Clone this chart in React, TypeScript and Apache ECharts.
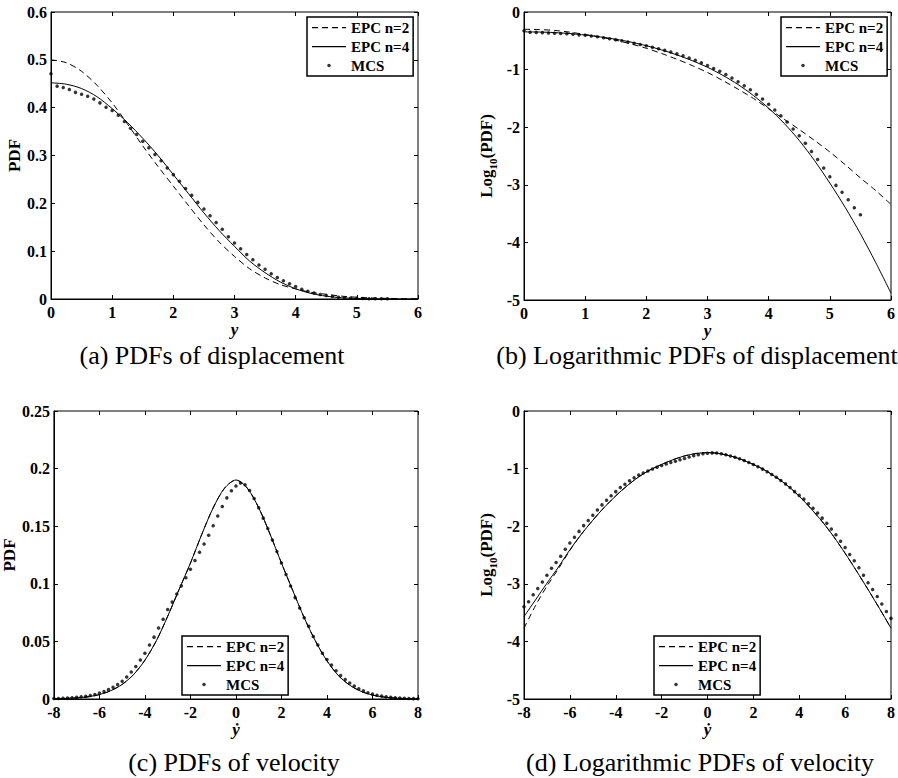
import React, { useEffect, useRef } from 'react';
import * as echarts from 'echarts';

const FONT = 'Liberation Serif, Times New Roman, serif';

// ---------- (a)/(b) displacement ----------
const xLineAB = [0, 0.25, 0.5, 0.75, 1, 1.25, 1.5, 1.75, 2, 2.25, 2.5, 2.75, 3, 3.25, 3.5, 3.75, 4, 4.25, 4.5, 4.75, 5, 5.25, 5.5, 5.75, 6];
const epc2A = [0.5, 0.494, 0.476, 0.447, 0.41, 0.366, 0.32, 0.277, 0.236, 0.195, 0.155, 0.119, 0.089, 0.063, 0.044, 0.03, 0.021, 0.014, 0.0098, 0.006, 0.0037, 0.0022, 0.0013, 0.0008, 0.0005];
const epc4A = [0.452, 0.449, 0.44, 0.423, 0.398, 0.369, 0.336, 0.3, 0.26, 0.22, 0.18, 0.143, 0.11, 0.079, 0.055, 0.0355, 0.0214, 0.0117, 0.0059, 0.0026, 0.00107, 0.00041, 0.00014, 0.000045, 0.000013];
const epc2B = [-0.3, -0.305, -0.32, -0.35, -0.39, -0.435, -0.49, -0.555, -0.63, -0.72, -0.82, -0.93, -1.05, -1.19, -1.34, -1.5, -1.68, -1.86, -2.04, -2.23, -2.43, -2.65, -2.88, -3.1, -3.34];
const epc4B = [-0.345, -0.348, -0.357, -0.374, -0.4, -0.433, -0.473, -0.523, -0.585, -0.658, -0.745, -0.845, -0.96, -1.1, -1.26, -1.45, -1.67, -1.93, -2.23, -2.58, -2.97, -3.39, -3.85, -4.35, -4.88];
const xMcsAB = [0, 0.1, 0.2, 0.3, 0.4, 0.5, 0.6, 0.7, 0.8, 0.9, 1, 1.1, 1.2, 1.3, 1.4, 1.5, 1.6, 1.7, 1.8, 1.9, 2, 2.1, 2.2, 2.3, 2.4, 2.5, 2.6, 2.7, 2.8, 2.9, 3, 3.1, 3.2, 3.3, 3.4, 3.5, 3.6, 3.7, 3.8, 3.9, 4, 4.1, 4.2, 4.3, 4.4, 4.5, 4.6, 4.7, 4.8, 4.9, 5, 5.1, 5.2, 5.3, 5.4, 5.5];
const mcsA = [0.471, 0.445, 0.442, 0.438, 0.432, 0.428, 0.424, 0.418, 0.41, 0.401, 0.394, 0.384, 0.371, 0.357, 0.344, 0.33, 0.316, 0.302, 0.289, 0.274, 0.26, 0.246, 0.231, 0.217, 0.202, 0.188, 0.174, 0.16, 0.146, 0.13, 0.117, 0.105, 0.093, 0.082, 0.071, 0.062, 0.053, 0.045, 0.038, 0.032, 0.026, 0.0205, 0.016, 0.0124, 0.0094, 0.0071, 0.0052, 0.0038, 0.00275, 0.00195, 0.00138, 0.00098, 0.00074, 0.00055, 0.0004, 0.0003];
const mcsB = [-0.327, -0.352, -0.354, -0.358, -0.364, -0.368, -0.373, -0.379, -0.387, -0.397, -0.405, -0.416, -0.43, -0.447, -0.463, -0.481, -0.5, -0.52, -0.541, -0.563, -0.587, -0.612, -0.638, -0.666, -0.696, -0.727, -0.76, -0.797, -0.836, -0.88, -0.93, -0.98, -1.03, -1.085, -1.145, -1.21, -1.28, -1.35, -1.43, -1.51, -1.6, -1.7, -1.8, -1.91, -2.03, -2.15, -2.28, -2.42, -2.56, -2.71, -2.86, -3.01, -3.13, -3.26, -3.4, -3.52];

// ---------- (c)/(d) velocity ----------
const xLineCD = [-8, -7.5, -7, -6.5, -6, -5.5, -5, -4.5, -4, -3.5, -3, -2.5, -2, -1.5, -1, -0.5, 0, 0.5, 1, 1.5, 2, 2.5, 3, 3.5, 4, 4.5, 5, 5.5, 6, 6.5, 7, 7.5, 8];
const epc2C = [0.00017, 0.00042, 0.00091, 0.00182, 0.0038, 0.00724, 0.0127, 0.0212, 0.0337, 0.0505, 0.0718, 0.095, 0.118, 0.143, 0.166, 0.183, 0.1901, 0.183, 0.166, 0.143, 0.118, 0.094, 0.0705, 0.0501, 0.0331, 0.0204, 0.012, 0.0066, 0.0034, 0.00166, 0.00079, 0.00037, 0.00017];
const epc4C = [0.000269, 0.000525, 0.00102, 0.00195, 0.00389, 0.00724, 0.0127, 0.0212, 0.0337, 0.0505, 0.0718, 0.095, 0.118, 0.143, 0.166, 0.183, 0.1901, 0.183, 0.166, 0.143, 0.118, 0.094, 0.0705, 0.0501, 0.0331, 0.0204, 0.012, 0.0066, 0.0034, 0.00166, 0.00079, 0.00037, 0.00017];
const epc2D = [-3.77, -3.38, -3.04, -2.74, -2.42, -2.14, -1.896, -1.673, -1.473, -1.297, -1.144, -1.022, -0.928, -0.845, -0.78, -0.738, -0.721, -0.738, -0.78, -0.845, -0.928, -1.027, -1.152, -1.3, -1.48, -1.69, -1.92, -2.18, -2.47, -2.78, -3.1, -3.43, -3.77];
const epc4D = [-3.57, -3.28, -2.99, -2.71, -2.41, -2.14, -1.896, -1.673, -1.473, -1.297, -1.144, -1.022, -0.928, -0.845, -0.78, -0.738, -0.721, -0.738, -0.78, -0.845, -0.928, -1.027, -1.152, -1.3, -1.48, -1.69, -1.92, -2.18, -2.47, -2.78, -3.1, -3.43, -3.77];
const xMcsCD = [-8, -7.8, -7.6, -7.4, -7.2, -7, -6.8, -6.6, -6.4, -6.2, -6, -5.8, -5.6, -5.4, -5.2, -5, -4.8, -4.6, -4.4, -4.2, -4, -3.8, -3.6, -3.4, -3.2, -3, -2.8, -2.6, -2.4, -2.2, -2, -1.8, -1.6, -1.4, -1.2, -1, -0.8, -0.6, -0.4, -0.2, 0, 0.2, 0.4, 0.6, 0.8, 1, 1.2, 1.4, 1.6, 1.8, 2, 2.2, 2.4, 2.6, 2.8, 3, 3.2, 3.4, 3.6, 3.8, 4, 4.2, 4.4, 4.6, 4.8, 5, 5.2, 5.4, 5.6, 5.8, 6, 6.2, 6.4, 6.6, 6.8, 7, 7.2, 7.4, 7.6, 7.8, 8];
const mcsC = [0.000398, 0.00049, 0.000646, 0.000832, 0.00107, 0.00141, 0.00186, 0.00234, 0.00302, 0.00398, 0.00513, 0.00646, 0.00813, 0.0102, 0.0126, 0.0155, 0.0191, 0.0234, 0.0282, 0.0339, 0.0398, 0.0468, 0.0537, 0.0617, 0.0692, 0.0776, 0.0841, 0.0912, 0.0982, 0.1052, 0.1127, 0.1202, 0.1274, 0.1346, 0.1422, 0.1503, 0.1589, 0.1671, 0.1746, 0.1807, 0.1849, 0.1875, 0.186, 0.181, 0.174, 0.166, 0.157, 0.148, 0.138, 0.128, 0.118, 0.108, 0.098, 0.088, 0.079, 0.0705, 0.0631, 0.0543, 0.0468, 0.0398, 0.0343, 0.0295, 0.0245, 0.0204, 0.017, 0.0138, 0.0112, 0.0089, 0.0071, 0.0055, 0.00427, 0.00324, 0.00251, 0.00191, 0.00141, 0.00105, 0.00079, 0.0006, 0.00045, 0.00033, 0.00025];
const mcsD = [-3.4, -3.31, -3.19, -3.08, -2.97, -2.85, -2.73, -2.63, -2.52, -2.4, -2.29, -2.19, -2.09, -1.99, -1.9, -1.81, -1.72, -1.63, -1.55, -1.47, -1.4, -1.33, -1.27, -1.21, -1.16, -1.11, -1.075, -1.04, -1.008, -0.978, -0.948, -0.92, -0.895, -0.871, -0.847, -0.823, -0.799, -0.777, -0.758, -0.743, -0.733, -0.727, -0.73, -0.742, -0.759, -0.78, -0.804, -0.83, -0.86, -0.893, -0.928, -0.966, -1.009, -1.056, -1.102, -1.152, -1.205, -1.265, -1.33, -1.4, -1.465, -1.53, -1.61, -1.69, -1.77, -1.86, -1.95, -2.05, -2.15, -2.26, -2.37, -2.49, -2.6, -2.72, -2.85, -2.98, -3.1, -3.22, -3.35, -3.48, -3.6];

const seriesNames = ['EPC n=2', 'EPC n=4', 'MCS'];
const captions = ['(a) PDFs of displacement', '(b) Logarithmic PDFs of displacement', '(c) PDFs of velocity', '(d) Logarithmic PDFs of velocity'];

const pair = (xs: number[], ys: number[]) => xs.map((x, i) => [x, ys[i]]);

const panels = [
  { rect: { left: 51, top: 12, width: 367, height: 287 }, x: [0, 6, 1], y: [0, 0.6, 0.1], xName: 'y', log: false, yGap: 27,
    xl: xLineAB, l2: epc2A, l4: epc4A, xm: xMcsAB, m: mcsA, legend: { left: 307, top: 17 }, cap: { x: 212, y: 355 } },
  { rect: { left: 524, top: 12, width: 367, height: 288 }, x: [0, 6, 1], y: [-5, 0, 1], xName: 'y', log: true, yGap: 26,
    xl: xLineAB, l2: epc2B, l4: epc4B, xm: xMcsAB, m: mcsB, legend: { left: 781, top: 17 }, cap: { x: 697, y: 355 } },
  { rect: { left: 50, top: 411, width: 368, height: 288 }, x: [-8, 8, 2], y: [0, 0.25, 0.05], xName: '\u1E8F', log: false, yGap: 33,
    xl: xLineCD, l2: epc2C, l4: epc4C, xm: xMcsCD, m: mcsC, legend: { left: 182, top: 636 }, cap: { x: 234, y: 762 } },
  { rect: { left: 524, top: 411, width: 367, height: 288 }, x: [-8, 8, 2], y: [-5, 0, 1], xName: '\u1E8F', log: true, yGap: 26,
    xl: xLineCD, l2: epc2D, l4: epc4D, xm: xMcsCD, m: mcsD, legend: { left: 654, top: 636 }, cap: { x: 700, y: 762 } },
];

const DASH_ICON = 'path://M0,0M34,15M0,7h6v1.2H0zM10,7h6v1.2h-6zM20,7h6v1.2h-6zM30,7h4v1.2h-4z';
const SOLID_ICON = 'path://M0,0M34,15M0,7h34v1.2H0z';
const DOT_ICON = 'path://M0,0M34,15M15.25,7.5a1.75,1.75 0 1,0 3.5,0a1.75,1.75 0 1,0 -3.5,0z';

function buildOption() {
  const grid: any[] = [];
  const xAxis: any[] = [];
  const yAxis: any[] = [];
  const series: any[] = [];
  const legend: any[] = [];
  const graphic: any[] = [];
  const tick = { show: true, inside: true, length: 4, lineStyle: { color: '#000', width: 1 } };
  const labelStyle = { color: '#000', fontFamily: FONT, fontWeight: 'bold', fontSize: 16 };

  panels.forEach((p, i) => {
    grid.push({ ...p.rect, show: true, borderColor: '#000', borderWidth: 1, backgroundColor: 'transparent' });
    const xr = { min: p.x[0], max: p.x[1], interval: p.x[2] };
    const yr = { min: p.y[0], max: p.y[1], interval: p.y[2] };
    xAxis.push({
      type: 'value', gridIndex: i, ...xr, position: 'bottom',
      axisLine: { show: true, onZero: false, lineStyle: { color: '#000', width: 1 } },
      axisTick: tick, splitLine: { show: false },
      axisLabel: { ...labelStyle, margin: 5 },
      name: p.xName, nameLocation: 'middle', nameGap: 19,
      nameTextStyle: { color: '#000', fontFamily: FONT, fontWeight: 'bold', fontStyle: 'italic', fontSize: 17 },
    });
    xAxis.push({
      type: 'value', gridIndex: i, ...xr, position: 'top',
      axisLine: { show: false, onZero: false }, axisTick: tick, axisLabel: { show: false }, splitLine: { show: false },
    });
    const yName = p.log
      ? { name: '{a|Log}{b|10}{a|(PDF)}', nameGap: p.yGap,
          nameTextStyle: { rich: {
            a: { fontFamily: FONT, fontWeight: 'bold', fontSize: 17, color: '#000', lineHeight: 24, verticalAlign: 'middle' },
            b: { fontFamily: FONT, fontWeight: 'bold', fontSize: 11, color: '#000', lineHeight: 24, verticalAlign: 'bottom' },
          } } }
      : { name: 'PDF', nameGap: p.yGap, nameTextStyle: { color: '#000', fontFamily: FONT, fontWeight: 'bold', fontSize: 17 } };
    yAxis.push({
      type: 'value', gridIndex: i, ...yr, position: 'left',
      axisLine: { show: true, onZero: false, lineStyle: { color: '#000', width: 1 } },
      axisTick: tick, splitLine: { show: false },
      axisLabel: { ...labelStyle, margin: 4 },
      nameLocation: 'middle', ...yName,
    });
    yAxis.push({
      type: 'value', gridIndex: i, ...yr, position: 'right',
      axisLine: { show: false, onZero: false }, axisTick: tick, axisLabel: { show: false }, splitLine: { show: false },
    });
    const xi = 2 * i;
    series.push({
      name: seriesNames[0], type: 'line', xAxisIndex: xi, yAxisIndex: xi, data: pair(p.xl, p.l2),
      symbol: 'none', showSymbol: false, smooth: 0.3, lineStyle: { color: '#000', width: 1, type: [6, 4] }, itemStyle: { color: '#000' },
    });
    series.push({
      name: seriesNames[1], type: 'line', xAxisIndex: xi, yAxisIndex: xi, data: pair(p.xl, p.l4),
      symbol: 'none', showSymbol: false, smooth: 0.3, lineStyle: { color: '#000', width: 1, type: 'solid' }, itemStyle: { color: '#000' },
    });
    series.push({
      name: seriesNames[2], type: 'scatter', xAxisIndex: xi, yAxisIndex: xi, data: pair(p.xm, p.m),
      symbol: 'circle', symbolSize: 3.5, itemStyle: { color: '#000' }, z: 3,
    });
    legend.push({
      ...p.legend, orient: 'vertical', selectedMode: false,
      backgroundColor: '#fff', borderColor: '#000', borderWidth: 1.5, borderRadius: 0,
      padding: [3, 4, 3, 5], itemGap: 4, itemWidth: 34, itemHeight: 15,
      itemStyle: { borderWidth: 0 },
      textStyle: { color: '#000', fontFamily: FONT, fontWeight: 'bold', fontSize: 15 },
      data: [
        { name: seriesNames[0], icon: DASH_ICON, itemStyle: { borderWidth: 0, color: '#000' } },
        { name: seriesNames[1], icon: SOLID_ICON, itemStyle: { borderWidth: 0, color: '#000' } },
        { name: seriesNames[2], icon: DOT_ICON, itemStyle: { borderWidth: 0, color: '#000' } },
      ],
    });
    graphic.push({
      type: 'text', x: p.cap.x, y: p.cap.y,
      style: { text: captions[i], fill: '#000', font: `26px ${FONT}`, textAlign: 'center', textVerticalAlign: 'middle' },
    });
  });

  return { animation: false, backgroundColor: '#fff', grid, xAxis, yAxis, series, legend, graphic };
}

export default function App() {
  const ref = useRef<HTMLDivElement>(null);
  useEffect(() => {
    document.body.style.margin = '0';
    const chart = echarts.init(ref.current!, null, { renderer: 'svg' });
    chart.setOption(buildOption() as any);
    return () => chart.dispose();
  }, []);
  return <div ref={ref} style={{ width: 898, height: 778, background: '#fff' }} />;
}
